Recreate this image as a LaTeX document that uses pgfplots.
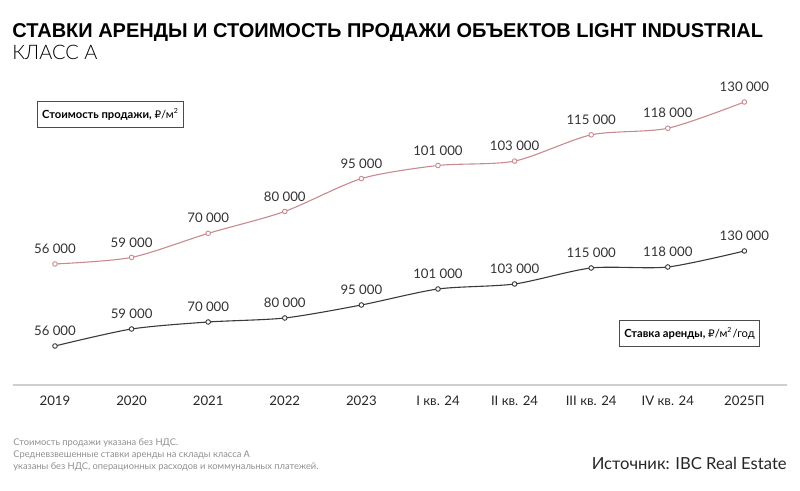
\documentclass[border=0pt]{standalone}
\usepackage{pgfplots}
\pgfplotsset{compat=1.18}
\usepackage{fontspec}
\setmainfont{Lato}
\newfontfamily\titlefont{Liberation Sans}
\newfontfamily\lightfont{Lato Light}
\newfontfamily\rub{DejaVu Sans}
\definecolor{pinkline}{HTML}{C98A8F}
\definecolor{darkline}{HTML}{3A3A3A}
\definecolor{axisgray}{HTML}{CFCFCF}
\definecolor{notegray}{HTML}{8F8F8F}
\definecolor{labelgray}{HTML}{333333}
\pgfplotsset{
  base/.style={
    scale only axis, width=387pt, height=147.5pt,
    xmin=-0.548, xmax=9.556, clip=false,
    /pgf/number format/assume math mode=true,
  },
  series/.style={
    line width=0.55pt, smooth, tension=0.45,
    mark=*, mark size=1.15pt,
    mark options={fill=white, draw=#1, line width=0.45pt, solid},
    color=#1,
    nodes near coords, point meta=explicit symbolic,
    every node near coord/.append style={anchor=base, yshift=5.2pt, inner sep=0pt,
      font=\fontsize{6.6}{7}\selectfont, text=labelgray},
  },
}
\begin{document}
\begin{tikzpicture}
% upper series: sale price
\begin{axis}[base,
  ymin=729, ymax=135481,
  axis y line=none, axis x line*=bottom,
  x axis line style={axisgray, line width=0.8pt},
  xtick={0,...,9},
  xticklabels={2019,2020,2021,2022,2023,I кв. 24,II кв. 24,III кв. 24,IV кв. 24,2025П},
  major tick length=0pt,
  xticklabel style={font=\fontsize{6.6}{7}\selectfont, text=black!85, inner sep=0pt, anchor=north, yshift=-5.5pt},
]
\addplot[series=pinkline] coordinates {
  (0,56000) [56~000]
  (1,59000) [59~000]
  (2,70000) [70~000]
  (3,80000) [80~000]
  (4,95000) [95~000]
  (5,101000) [101~000]
  (6,103000) [103~000]
  (7,115000) [115~000]
  (8,118000) [118~000]
  (9,130000) [130~000]
};
\end{axis}
% lower series: rent rate (plotted positions)
\begin{axis}[base, ymin=0, ymax=295, hide axis]
\addplot[series=darkline] coordinates {
  (0,39) [56~000]
  (1,56) [59~000]
  (2,63) [70~000]
  (3,67) [80~000]
  (4,80) [95~000]
  (5,96) [101~000]
  (6,101) [103~000]
  (7,117) [115~000]
  (8,118) [118~000]
  (9,134) [130~000]
};
\end{axis}
% titles
\node[anchor=base west, inner sep=0pt] at (-0.5pt,173.5pt)
  {\titlefont\bfseries\fontsize{10}{12}\selectfont СТАВКИ АРЕНДЫ И СТОИМОСТЬ ПРОДАЖИ ОБЪЕКТОВ LIGHT INDUSTRIAL};
\node[anchor=base west, inner sep=0pt] at (-0.5pt,162.5pt)
  {\lightfont\fontsize{10}{12}\selectfont КЛАСС А};
% series boxes
\node[draw=black!70, line width=0.45pt, inner xsep=2.5pt, minimum height=9.5pt, font=\fontsize{5.6}{6}\selectfont]
  at (48.75pt,135.25pt) {\textbf{Стоимость продажи,} {\rub\fontsize{5.2}{6}\selectfont ₽}/м\textsuperscript{\fontsize{3.5}{4}\selectfont 2}};
\node[draw=black!70, line width=0.45pt, inner xsep=2.5pt, minimum height=9.5pt, font=\fontsize{5.6}{6}\selectfont]
  at (338.25pt,25.75pt) {\textbf{Ставка аренды,} {\rub\fontsize{5.2}{6}\selectfont ₽}/м\textsuperscript{\fontsize{3.5}{4}\selectfont 2}/год};
% notes
\node[anchor=base west, inner sep=0pt, align=left, text=notegray, font=\fontsize{4.65}{6}\selectfont]
  at (0pt,-42.2pt) {Стоимость продажи указана без НДС.\\Средневзвешенные ставки аренды на склады класса А\\указаны без НДС, операционных расходов и коммунальных платежей.};
\node[anchor=base east, inner sep=0pt, font=\fontsize{8.3}{9}\selectfont, text=black!85]
  at (387pt,-42.5pt) {Источник: IBC Real Estate};
\path[use as bounding box] (-6.5pt,-53pt) rectangle (393.5pt,192.5pt);
\end{tikzpicture}
\end{document}
